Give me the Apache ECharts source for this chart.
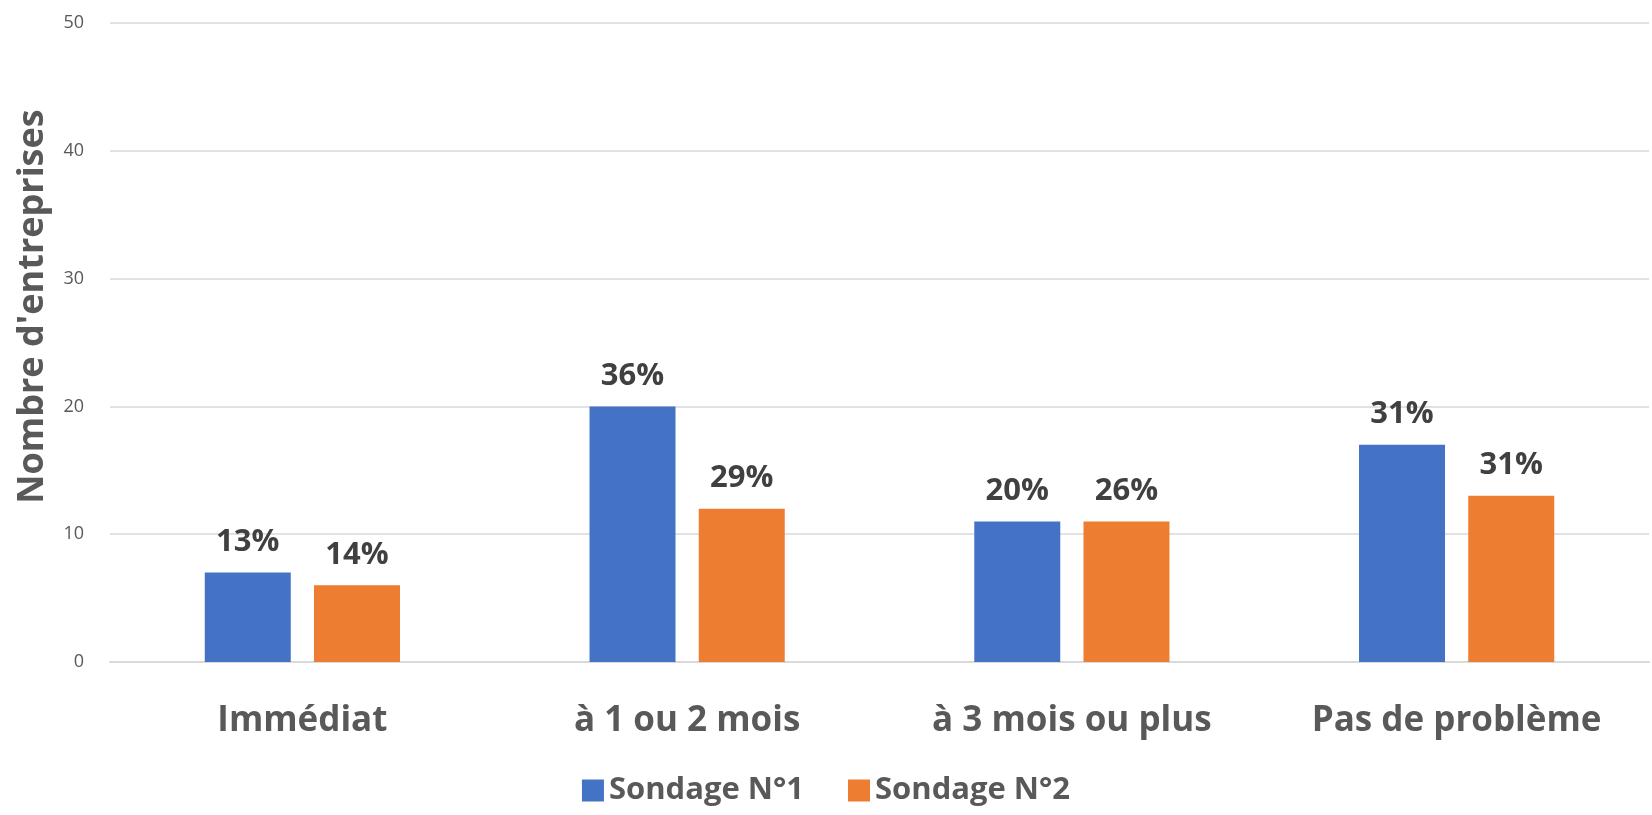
<!DOCTYPE html>
<html>
<head>
<meta charset="utf-8">
<script src="https://cdn.jsdelivr.net/npm/echarts@6/dist/echarts.min.js"></script>
<style>
  html, body { margin: 0; padding: 0; background: #fff; }
  #chart { width: 1652px; height: 815px; }
</style>
</head>
<body>
<div id="chart"></div>
<script>
// données
const categories = ['Immédiat', 'à 1 ou 2 mois', 'à 3 mois ou plus', 'Pas de problème']
const sondage1 = [7, 20, 11, 17]
const sondage2 = [6, 12, 11, 13]
const labels1 = ['13%', '36%', '20%', '31%']
const labels2 = ['14%', '29%', '26%', '31%']

const textColor = '#595959'
const font = '"Open Sans", "Noto Sans", sans-serif'

const barLabel = (texts) => ({
  show: true,
  position: 'top',
  distance: 15,
  formatter: p => texts[p.dataIndex],
  fontFamily: font,
  fontWeight: 'bold',
  fontSize: 31,
  color: '#404040'
})

const chart = echarts.init(document.getElementById('chart'))
chart.setOption({
  animation: false,
  textStyle: { fontFamily: font },
  grid: { left: 110, right: 3, top: 23, bottom: 153, outerBoundsMode: 'none' },
  legend: {
    top: 770,
    left: 'center',
    itemWidth: 22,
    itemHeight: 22,
    itemGap: 44,
    icon: 'rect',
    textStyle: { fontFamily: font, fontWeight: 'bold', fontSize: 31, color: textColor },
    data: ['Sondage N°1', 'Sondage N°2']
  },
  xAxis: {
    type: 'category',
    data: categories,
    axisTick: { show: false },
    axisLine: { lineStyle: { color: '#d9d9d9', width: 2 } },
    axisLabel: {
      margin: 42,
      fontFamily: font,
      fontWeight: 'bold',
      fontSize: 35,
      color: textColor
    }
  },
  yAxis: {
    type: 'value',
    min: 0,
    max: 50,
    interval: 10,
    name: "Nombre d'entreprises",
    nameLocation: 'middle',
    nameGap: 59,
    nameTextStyle: {
      fontFamily: font,
      fontWeight: 'bold',
      fontSize: 36,
      color: textColor,
      // le titre est un peu plus haut que le milieu de l'axe
      padding: [0, 0, 0, 72]
    },
    axisLine: { show: false },
    axisTick: { show: false },
    axisLabel: { margin: 26, fontSize: 18, color: textColor, fontFamily: font },
    splitLine: { lineStyle: { color: '#d9d9d9', width: 1.5 } }
  },
  series: [
    {
      name: 'Sondage N°1',
      type: 'bar',
      data: sondage1,
      barWidth: 86,
      barGap: '27%',
      itemStyle: { color: '#4472C4' },
      label: barLabel(labels1)
    },
    {
      name: 'Sondage N°2',
      type: 'bar',
      data: sondage2,
      barWidth: 86,
      itemStyle: { color: '#ED7D31' },
      label: barLabel(labels2)
    }
  ]
})
</script>
</body>
</html>
